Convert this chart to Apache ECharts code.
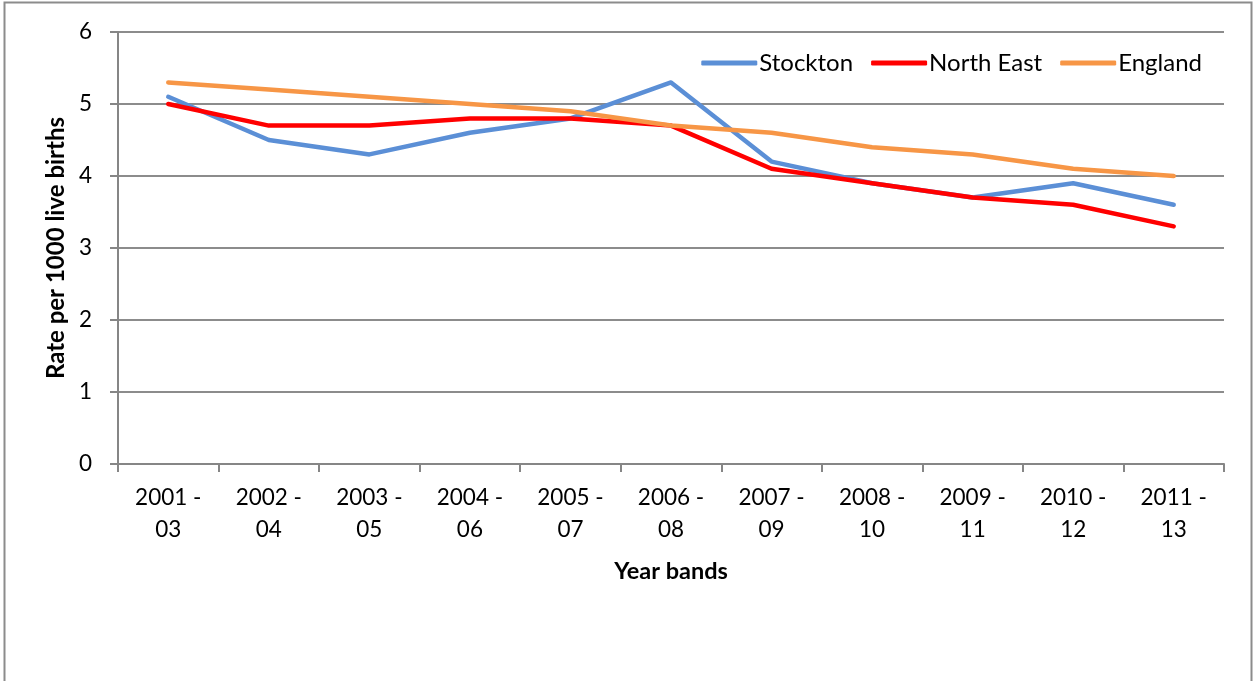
<!DOCTYPE html>
<html>
<head>
<meta charset="utf-8">
<style>
html,body{margin:0;padding:0;background:#fff;}
#c{width:1253px;height:681px;}
</style>
<script src="https://cdn.jsdelivr.net/npm/echarts@6/dist/echarts.min.js"></script>
</head>
<body>
<div id="c"></div>
<script>
const categories = ['2001 -\n03','2002 -\n04','2003 -\n05','2004 -\n06','2005 -\n07','2006 -\n08','2007 -\n09','2008 -\n10','2009 -\n11','2010 -\n12','2011 -\n13'];
const stockton  = [5.1, 4.5, 4.3, 4.6, 4.8, 5.3, 4.2, 3.9, 3.7, 3.9, 3.6];
const northEast = [5.0, 4.7, 4.7, 4.8, 4.8, 4.7, 4.1, 3.9, 3.7, 3.6, 3.3];
const england   = [5.3, 5.2, 5.1, 5.0, 4.9, 4.7, 4.6, 4.4, 4.3, 4.1, 4.0];

const FONT = 'Lato, "Open Sans", sans-serif';
const chart = echarts.init(document.getElementById('c'), null, {renderer:'canvas'});
const mk = (name, data, color, z) => ({
  name, type:'line', data, symbol:'none', z,
  lineStyle:{color, width:4.5, cap:'round', join:'round'},
  itemStyle:{color}
});
chart.setOption({
  animation:false,
  backgroundColor:'#fff',
  graphic:[{type:'rect', shape:{x:4.5, y:2.5, width:1247, height:690}, style:{fill:'none', stroke:'#8c8c8c', lineWidth:2}, z:-1}],
  legend:{
    top:46, right:46, itemWidth:56, itemHeight:5, itemGap:18,
    icon:'roundRect',
    textStyle:{fontFamily:FONT, fontSize:24, color:'#000', padding:[0,0,0,-3]},
    data:['Stockton','North East','England']
  },
  grid:{left:118, right:29, top:32, bottom:217, containLabel:false},
  xAxis:{
    type:'category', data:categories, boundaryGap:true,
    axisLine:{lineStyle:{color:'#868686', width:2}},
    axisTick:{show:true, length:8, alignWithLabel:false, lineStyle:{color:'#868686', width:2}},
    axisLabel:{fontFamily:FONT, fontSize:22.5, color:'#000', lineHeight:32, margin:18, interval:0},
    name:'Year bands', nameLocation:'middle', nameGap:95,
    nameTextStyle:{fontFamily:FONT, fontSize:23.5, fontWeight:'bold', color:'#000'}
  },
  yAxis:{
    type:'value', min:0, max:6, interval:1,
    axisLine:{show:true, lineStyle:{color:'#868686', width:2}},
    axisTick:{show:true, length:8, lineStyle:{color:'#868686', width:2}},
    splitLine:{lineStyle:{color:'#8c8c8c', width:2}},
    axisLabel:{fontFamily:FONT, fontSize:22.5, color:'#000', margin:26},
    name:'Rate per 1000 live births', nameLocation:'middle', nameGap:48,
    nameTextStyle:{fontFamily:FONT, fontSize:24, fontWeight:'bold', color:'#000'}
  },
  series:[
    mk('Stockton', stockton, '#5b8fd6', 3),
    mk('North East', northEast, '#ff0000', 4),
    mk('England', england, '#f79646', 5)
  ]
});
</script>
</body>
</html>
